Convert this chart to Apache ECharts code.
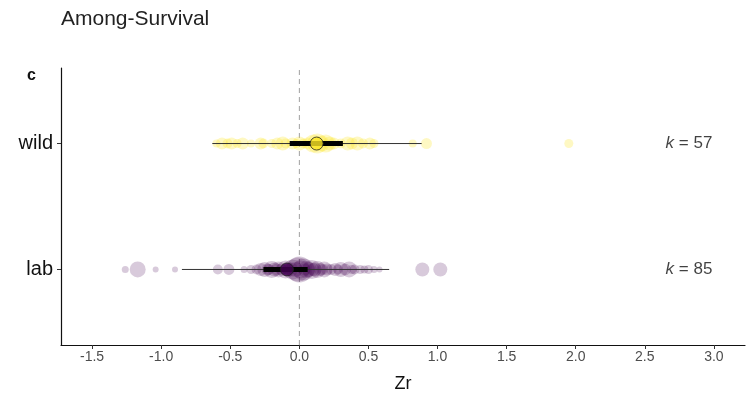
<!DOCTYPE html>
<html>
<head>
<meta charset="utf-8">
<script src="https://cdn.jsdelivr.net/npm/echarts@6/dist/echarts.min.js"></script>
<style>
  html, body { margin: 0; padding: 0; background: #fff; }
  #chart { width: 746px; height: 397px; }
</style>
</head>
<body>
<div id="chart"></div>
<script>
// groups, bottom to top
const groups = ['lab', 'wild'];
const kCounts = [85, 57];

// model estimates (orchard summary)
const estimate = [-0.09, 0.125];
const ciLow = [-0.26, -0.07];
const ciHigh = [0.06, 0.315];
const piLow = [-0.85, -0.63];
const piHigh = [0.65, 0.885];

// individual effect sizes and their point sizes (precision)
const wildZr = [-0.6, -0.56, -0.52, -0.49, -0.45, -0.41, -0.35, -0.28, -0.26, -0.2, -0.16, -0.12,
  -0.1, -0.05, -0.02, 0.0, 0.03, 0.06, 0.1, 0.13, 0.16, 0.19, 0.22, 0.25, 0.3, 0.35, 0.38,
  0.42, 0.46, 0.51, 0.54, 0.82, 0.92, 1.95];
const wildSize = [8, 12, 10, 12, 9, 12, 8, 12, 10, 9, 12, 14,
  10, 12, 9, 14, 10, 12, 18, 20, 16, 18, 14, 12, 10, 14, 12,
  14, 10, 12, 9, 8, 11, 9];

const labZr = [-1.26, -1.17, -1.04, -0.9, -0.59, -0.51, -0.4, -0.35, -0.31, -0.28, -0.25, -0.23,
  -0.2, -0.18, -0.15, -0.13, -0.1, -0.08, -0.05, -0.03, -0.01, 0.0, 0.01, 0.03, 0.05, 0.07,
  0.09, 0.11, 0.13, 0.15, 0.18, 0.2, 0.23, 0.26, 0.3, 0.33, 0.36, 0.4, 0.44, 0.47, 0.5,
  0.54, 0.58, 0.89, 1.02, -0.22, -0.16, -0.11, -0.06, 0.04, 0.1, 0.17, 0.28, 0.38];
const labSize = [7, 16, 6, 6, 10, 11, 7, 9, 10, 13, 15, 12,
  17, 14, 16, 12, 18, 13, 20, 15, 24, 26, 18, 22, 17, 15,
  19, 14, 17, 13, 16, 12, 11, 13, 15, 12, 16, 10, 9, 8, 9,
  7, 6, 14, 14, 11, 12, 10, 14, 12, 13, 11, 10, 9];

const xTicks = [-1.5, -1.0, -0.5, 0.0, 0.5, 1.0, 1.5, 2.0, 2.5, 3.0];

const chart = echarts.init(document.getElementById('chart'));
const font = 'Liberation Sans, Arial, sans-serif';

const yOf = name => groups.indexOf(name) + 1;

const series = [];

// dashed zero line
series.push({
  type: 'line',
  data: [[0, 0.4], [0, 2.6]],
  symbol: 'none',
  silent: true,
  lineStyle: { color: '#a0a0a0', type: [5, 4], width: 1 },
  z: 1
});

// raw effect sizes
series.push({
  type: 'scatter',
  data: wildZr.map((v, i) => [v, yOf('wild'), wildSize[i]]),
  symbolSize: d => d[2],
  itemStyle: { color: 'rgba(253,231,37,0.34)' },
  z: 2
});
series.push({
  type: 'scatter',
  data: labZr.map((v, i) => [v, yOf('lab'), labSize[i]]),
  symbolSize: d => d[2],
  itemStyle: { color: 'rgba(68,1,84,0.26)' },
  z: 2
});

groups.forEach((g, i) => {
  const y = i + 1;
  // prediction interval
  series.push({
    type: 'line',
    data: [[piLow[i], y], [piHigh[i], y]],
    symbol: 'none',
    lineStyle: { color: '#333', width: 1 },
    z: 3
  });
  // confidence interval
  series.push({
    type: 'line',
    data: [[ciLow[i], y], [ciHigh[i], y]],
    symbol: 'none',
    lineStyle: { color: '#000', width: 5 },
    z: 4
  });
  // estimate
  series.push({
    type: 'scatter',
    data: [[estimate[i], y]],
    symbolSize: 13,
    itemStyle: {
      color: g === 'wild' ? '#FDE725' : '#440154',
      borderColor: '#222',
      borderWidth: 1
    },
    z: 5
  });
  // k label
  series.push({
    type: 'scatter',
    data: [[2.96, y]],
    symbolSize: 0,
    silent: true,
    label: {
      show: true,
      position: 'inside',
      align: 'right',
      offset: [4, 0],
      formatter: '{i|k} = ' + kCounts[i],
      color: '#111',
      fontFamily: font,
      fontSize: 17,
      rich: {
        i: { fontStyle: 'italic', fontFamily: font, fontSize: 17, color: '#111' }
      }
    },
    z: 6
  });
});

chart.setOption({
  animation: false,
  title: [
    {
      text: 'Among-Survival',
      left: 56,
      top: 4,
      textStyle: { fontFamily: font, fontSize: 21, fontWeight: 'normal', color: '#222' }
    },
    {
      text: 'c',
      left: 22,
      top: 63,
      textStyle: { fontFamily: font, fontSize: 16, fontWeight: 'bold', color: '#111' }
    }
  ],
  grid: { left: 61, right: 1, top: 68, bottom: 52, outerBoundsMode: 'none' },
  xAxis: {
    type: 'value',
    min: -1.725,
    max: 3.225,
    name: 'Zr',
    nameLocation: 'middle',
    nameGap: 30,
    nameTextStyle: { fontFamily: font, fontSize: 18, color: '#111' },
    splitLine: { show: false },
    axisLine: { show: true, onZero: false, lineStyle: { color: '#111', width: 1.2 } },
    axisTick: { show: true, inside: false, length: 4, customValues: xTicks, lineStyle: { color: '#333' } },
    axisLabel: {
      customValues: xTicks,
      formatter: v => v.toFixed(1),
      fontFamily: font,
      fontSize: 14,
      color: '#4d4d4d',
      margin: 5
    }
  },
  yAxis: {
    type: 'value',
    min: 0.4,
    max: 2.6,
    splitLine: { show: false },
    axisLine: { show: true, onZero: false, lineStyle: { color: '#111', width: 1.2 } },
    axisTick: { show: true, inside: false, length: 4, customValues: [1, 2], lineStyle: { color: '#333' } },
    axisLabel: {
      customValues: [1, 2],
      formatter: v => groups[Math.round(v) - 1],
      fontFamily: font,
      fontSize: 20,
      color: '#111',
      margin: 8
    }
  },
  series: series
});
</script>
</body>
</html>
